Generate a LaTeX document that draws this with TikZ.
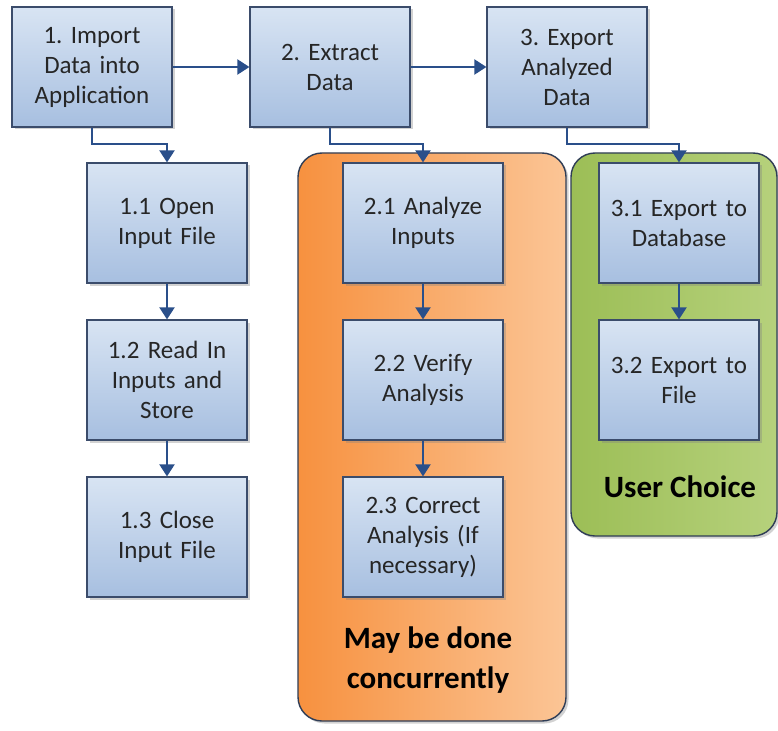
\documentclass[tikz,border=0pt]{standalone}
\usepackage{fontspec}
\setmainfont{Carlito}
\usetikzlibrary{arrows.meta,shadows}
\definecolor{boxtop}{HTML}{D8E4F3}
\definecolor{boxbot}{HTML}{A7BFE0}
\definecolor{boxline}{HTML}{3B4C6B}
\definecolor{linkcol}{HTML}{2A4F8A}
\definecolor{orangeL}{HTML}{F7913F}
\definecolor{orangeR}{HTML}{FBC596}
\definecolor{greenL}{HTML}{9CBE56}
\definecolor{greenR}{HTML}{B6D17C}
\definecolor{txt}{HTML}{262626}
\frenchspacing

\begin{document}
\begin{tikzpicture}[x=1pt,y=1pt,
  stepbox/.style={draw=boxline, line width=1.2pt, top color=boxtop, bottom color=boxbot,
    minimum width=160pt, minimum height=120pt, text width=150pt, align=center,
    text=txt, font=\fontsize{25}{30}\selectfont,
    drop shadow={shadow xshift=2.5pt, shadow yshift=-2.5pt, opacity=0.35}},
  group/.style={draw=boxline!80!black, line width=1.4pt, rounded corners=24pt,
    drop shadow={shadow xshift=2.5pt, shadow yshift=-2.5pt, opacity=0.35}},
  note/.style={align=center, text=black, font=\fontsize{31}{40}\selectfont\bfseries},
  link/.style={draw=linkcol, line width=2pt, -{Triangle[width=15pt,length=12pt]}}]

\useasboundingbox (0,0) rectangle (778,-730);
\fill[white] (0,0) rectangle (778,-730);

% groups
\draw[group, left color=orangeL, right color=orangeR] (298,-153) rectangle (566,-721);
\draw[group, left color=greenL, right color=greenR] (571,-153) rectangle (777,-536);

% top row
\node[stepbox] (imp) at (92,-67) {1. Import\\Data into\\Application};
\node[stepbox] (ext) at (330,-67) {2. Extract\\Data};
\node[stepbox] (exp) at (567,-67) {3. Export\\Analyzed\\Data};

% column 1
\node[stepbox] (open)  at (167,-223) {1.1 Open\\Input File};
\node[stepbox] (read)  at (167,-380) {1.2 Read In\\Inputs and\\Store};
\node[stepbox] (close) at (167,-537) {1.3 Close\\Input File};

% column 2
\node[stepbox] (ana) at (423,-223) {2.1 Analyze\\Inputs};
\node[stepbox] (ver) at (423,-380) {2.2 Verify\\Analysis};
\node[stepbox] (cor) at (423,-537) {2.3 Correct\\Analysis (If\\necessary)};

% column 3
\node[stepbox] (db)   at (679,-223) {3.1 Export to\\Database};
\node[stepbox] (file) at (679,-380) {3.2 Export to\\File};

\node[note] (conc) at (428,-660) {May be done\\concurrently};
\node[note] (user) at (680,-487) {User Choice};

% links
\draw[link] (imp) -- (ext);
\draw[link] (ext) -- (exp);
\draw[link] (imp.south) -- ++(0,-16) -| (open.north);
\draw[link] (ext.south) -- ++(0,-16) -| (ana.north);
\draw[link] (exp.south) -- ++(0,-16) -| (db.north);
\draw[link] (open) -- (read);
\draw[link] (read) -- (close);
\draw[link] (ana) -- (ver);
\draw[link] (ver) -- (cor);
\draw[link] (db) -- (file);

\end{tikzpicture}
\end{document}
